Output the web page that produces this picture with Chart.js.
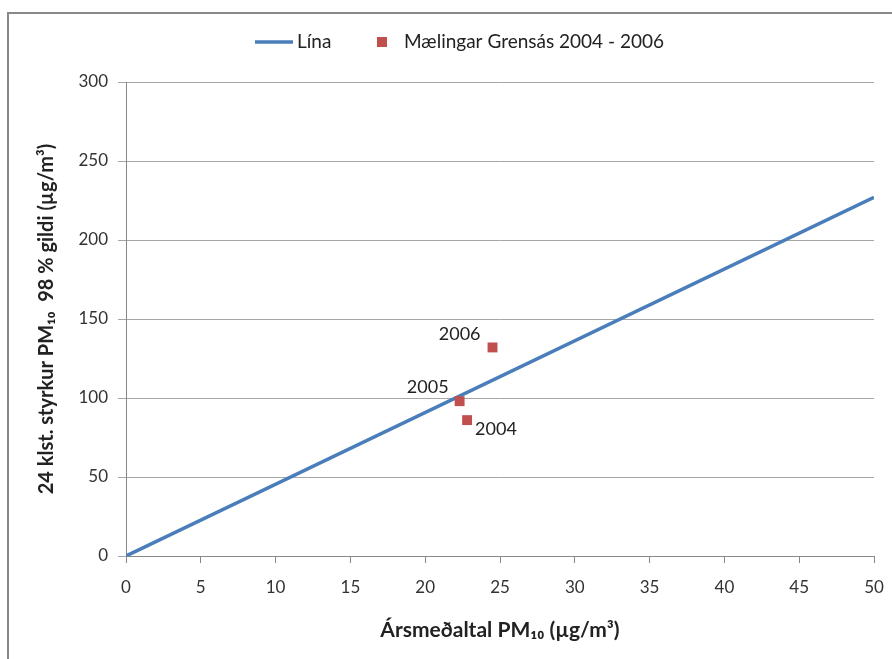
<!DOCTYPE html>
<html>
<head>
<meta charset="utf-8">
<script src="https://cdn.jsdelivr.net/npm/chart.js@4"></script>
<style>
  html, body { margin: 0; padding: 0; background: #fff; }
  #wrap { width: 892px; height: 659px; }
</style>
</head>
<body>
<div id="wrap"><canvas id="myChart" width="892" height="659"></canvas></div>
<script>
// Line (Lína)
var lineX = [0, 50];
var lineY = [0, 227];

// Measurements at Grensás
var years = ["2004", "2005", "2006"];
var measX = [22.8, 22.3, 24.5];
var measY = [86, 98, 132];

var xTicks = [0, 5, 10, 15, 20, 25, 30, 35, 40, 45, 50];
var yTicks = [0, 50, 100, 150, 200, 250, 300];

var FONT = "Lato, 'Open Sans', sans-serif";
var LINE_COLOR = "#4a7ebb";
var MARK_COLOR = "#c0504d";

// label offsets for each year (relative to the marker)
var labelPos = {
  "2004": { dx: 8, dy: 9, align: "left" },
  "2005": { dx: -11, dy: -14, align: "right" },
  "2006": { dx: -12, dy: -13, align: "right" }
};

// white background + frame at top/left
var framePlugin = {
  id: "frame",
  beforeDraw: function (chart) {
    var c = chart.ctx;
    c.save();
    c.fillStyle = "#fff";
    c.fillRect(0, 0, chart.width, chart.height);
    c.strokeStyle = "#888";
    c.lineWidth = 2;
    c.beginPath();
    c.moveTo(8, chart.height);
    c.lineTo(8, 13);
    c.lineTo(chart.width, 13);
    c.stroke();
    c.restore();
  }
};

// year labels next to the markers
var yearLabels = {
  id: "yearLabels",
  afterDatasetsDraw: function (chart) {
    var c = chart.ctx;
    var meta = chart.getDatasetMeta(1);
    c.save();
    c.font = "18px " + FONT;
    c.fillStyle = "#222";
    c.textBaseline = "middle";
    meta.data.forEach(function (pt, i) {
      var p = labelPos[years[i]];
      c.textAlign = p.align;
      c.fillText(years[i], pt.x + p.dx, pt.y + p.dy);
    });
    c.restore();
  }
};

// legend drawn by hand so the line and the square get their own sizes
var legendPlugin = {
  id: "myLegend",
  afterDraw: function (chart) {
    var c = chart.ctx;
    var y = 42;
    c.save();
    c.strokeStyle = LINE_COLOR;
    c.lineWidth = 3.5;
    c.beginPath();
    c.moveTo(255, y);
    c.lineTo(293, y);
    c.stroke();
    c.font = "19px " + FONT;
    c.fillStyle = "#222";
    c.textBaseline = "middle";
    c.textAlign = "left";
    c.fillText(chart.data.datasets[0].label, 297, y);
    c.fillStyle = MARK_COLOR;
    c.fillRect(377, y - 5, 10, 10);
    c.fillStyle = "#222";
    c.fillText(chart.data.datasets[1].label, 404, y);
    c.restore();
  }
};

function toPoints(xs, ys) {
  return xs.map(function (x, i) { return { x: x, y: ys[i] }; });
}

var ctx = document.getElementById("myChart").getContext("2d");
var myChart = new Chart(ctx, {
  type: "scatter",
  data: {
    datasets: [
      {
        label: "Lína",
        data: toPoints(lineX, lineY),
        showLine: true,
        borderColor: LINE_COLOR,
        borderWidth: 3.5,
        pointRadius: 0,
        order: 2
      },
      {
        label: "Mælingar Grensás 2004 - 2006",
        data: toPoints(measX, measY),
        pointStyle: "rect",
        pointRadius: 7,
        backgroundColor: MARK_COLOR,
        borderColor: MARK_COLOR,
        borderWidth: 0,
        order: 1
      }
    ]
  },
  options: {
    responsive: false,
    animation: false,
    layout: { padding: { left: 0, top: 82, right: 18, bottom: 0 } },
    plugins: {
      legend: { display: false },
      tooltip: { enabled: false }
    },
    scales: {
      x: {
        type: "linear",
        min: 0,
        max: 50,
        afterBuildTicks: function (s) { s.ticks = xTicks.map(function (v) { return { value: v }; }); },
        afterFit: function (s) { s.height = 103; s.paddingRight = 0; s.paddingLeft = 0; },
        grid: { drawOnChartArea: false, color: "#888", tickLength: 7 },
        border: { color: "#888" },
        ticks: { padding: 14, color: "#333", font: { family: FONT, size: 17 } },
        title: {
          display: true,
          text: "Ársmeðaltal PM₁₀ (µg/m³)",
          color: "#222",
          font: { family: FONT, size: 21, weight: "bold" },
          padding: { top: 0, bottom: 16 }
        }
      },
      y: {
        type: "linear",
        min: 0,
        max: 300,
        afterBuildTicks: function (s) { s.ticks = yTicks.map(function (v) { return { value: v }; }); },
        afterFit: function (s) { s.width = 126; },
        grid: { color: "#a6a6a6", tickLength: 8 },
        border: { color: "#888" },
        ticks: { padding: 10, color: "#333", font: { family: FONT, size: 17 } },
        title: {
          display: true,
          text: "24 klst. styrkur PM₁₀  98 % gildi (µg/m³)",
          color: "#222",
          font: { family: FONT, size: 20, weight: "bold" },
          padding: { top: 35, bottom: 0 }
        }
      }
    }
  },
  plugins: [framePlugin, yearLabels, legendPlugin]
});
</script>
</body>
</html>
